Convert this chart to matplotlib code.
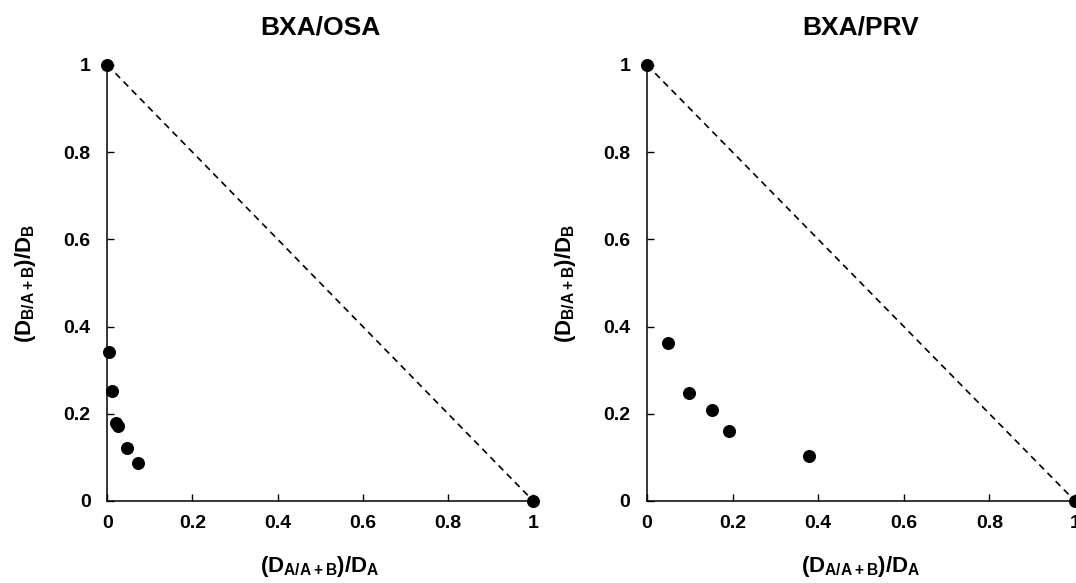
"""Two ternary-style dot plots: BXA/OSA and BXA/PRV."""
import numpy as np
import matplotlib
matplotlib.use('Agg')
import matplotlib.pyplot as plt

plt.rcParams['font.family'] = ['Liberation Sans', 'DejaVu Sans']
plt.rcParams['font.weight'] = 'bold'
plt.rcParams['mathtext.fontset'] = 'custom'
plt.rcParams['mathtext.rm'] = 'Liberation Sans:bold'
plt.rcParams['mathtext.it'] = 'Liberation Sans:bold'
plt.rcParams['mathtext.bf'] = 'Liberation Sans:bold'

# ── Data ──────────────────────────────────────────────────────────
titles = ['BXA/OSA', 'BXA/PRV']

osa_x = [0.0, 0.004, 0.010, 0.021, 0.024, 0.047, 0.072, 1.0]
osa_y = [1.0, 0.342, 0.253, 0.179, 0.172, 0.121, 0.088, 0.0]

prv_x = [0.0, 0.048, 0.097, 0.153, 0.192, 0.379, 1.0]
prv_y = [1.0, 0.363, 0.247, 0.209, 0.161, 0.104, 0.0]

ticks = [0, 0.2, 0.4, 0.6, 0.8, 1]
tick_labels = ['0', '0.2', '0.4', '0.6', '0.8', '1']

xlabel = r'$\mathrm{(D_{A/A+B})/D_A}$'
ylabel = r'$\mathrm{(D_{B/A+B})/D_B}$'

fig = plt.figure(figsize=(10.76, 5.83), dpi=100)
ax1 = fig.add_axes([0.0997, 0.1407, 0.3959, 0.7479])
ax2 = fig.add_axes([0.6013, 0.1407, 0.3978, 0.7479])

for ax, title, xs, ys in [(ax1, titles[0], osa_x, osa_y),
                          (ax2, titles[1], prv_x, prv_y)]:
    ax.plot([0, 1], [1, 0], color='black', linestyle=(0, (4, 3)),
            linewidth=1.2, zorder=1)
    ax.scatter(xs, ys, s=70, color='black', zorder=3, clip_on=False)

    ax.set_xlim(0, 1)
    ax.set_ylim(0, 1)
    ax.set_xticks(ticks)
    ax.set_yticks(ticks)
    ax.set_xticklabels(tick_labels)
    ax.set_yticklabels(tick_labels)

    for side in ['top', 'right']:
        ax.spines[side].set_visible(False)
    for side in ['left', 'bottom']:
        ax.spines[side].set_linewidth(1.1)

    ax.tick_params(direction='in', length=5, width=1.0, labelsize=14)
    ax.tick_params(axis='x', pad=10)
    ax.tick_params(axis='y', pad=12)
    for lbl in ax.get_xticklabels() + ax.get_yticklabels():
        lbl.set_fontweight('bold')

    ax.set_title(title, fontsize=19, fontweight='bold', pad=22)
    ax.set_xlabel(xlabel, fontsize=16, labelpad=16)
    ax.set_ylabel(ylabel, fontsize=16, labelpad=18)

fig.savefig('out.png', dpi=100)
